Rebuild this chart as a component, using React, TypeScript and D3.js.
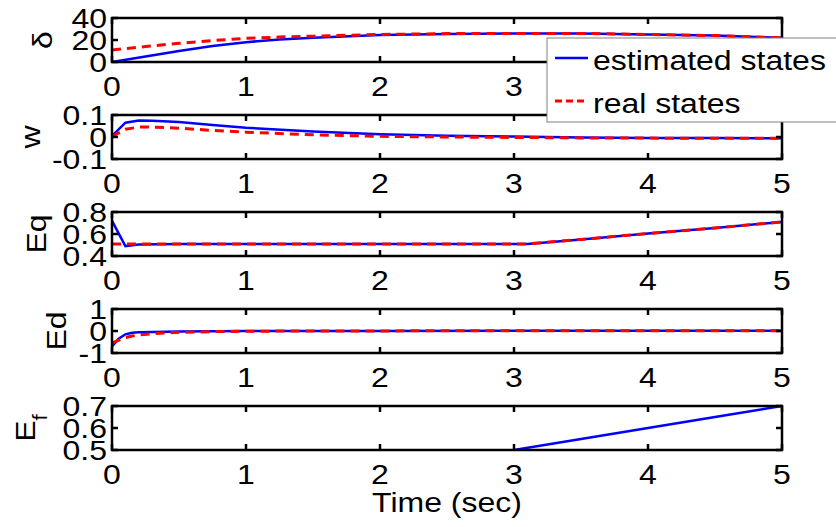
import * as d3 from 'd3';
import type { ReactNode } from 'react';

// time axis
const timeTicks = [0, 1, 2, 3, 4, 5];

// rotor angle
const deltaTime = [0, 0.25, 0.5, 0.75, 1, 1.25, 1.5, 2, 2.5, 3, 3.5, 4, 4.5, 5];
const deltaEst = [0, 5, 10, 14.5, 18, 20.5, 22, 24.5, 25.5, 26, 26, 25, 24, 22];
const deltaReal = [11, 14, 17, 19.5, 21.5, 22.7, 23.5, 25, 25.8, 26, 26, 25, 24, 22];
const deltaTicks = [0, 20, 40];

// speed deviation
const wTime = [0, 0.1, 0.2, 0.3, 0.5, 0.75, 1, 1.5, 2, 2.5, 3, 3.5, 4, 4.5, 5];
const wEst = [0.005, 0.065, 0.075, 0.074, 0.068, 0.055, 0.042, 0.025, 0.013, 0.006, 0.002, -0.002, -0.004, -0.005, -0.006];
const wReal = [0.002, 0.035, 0.045, 0.045, 0.04, 0.03, 0.022, 0.01, 0.003, 0, -0.002, -0.004, -0.005, -0.006, -0.006];
const wTicks = [-0.1, 0, 0.1];

// Eq'
const eqTime = [0, 0.1, 0.2, 0.5, 1, 2, 3, 3.1, 3.5, 4, 4.5, 5];
const eqEst = [0.72, 0.49, 0.505, 0.51, 0.51, 0.51, 0.51, 0.51, 0.55, 0.605, 0.655, 0.71];
const eqReal = [0.51, 0.51, 0.51, 0.51, 0.51, 0.51, 0.51, 0.51, 0.55, 0.605, 0.655, 0.71];
const eqTicks = [0.4, 0.6, 0.8];

// Ed'
const edTime = [0, 0.05, 0.1, 0.15, 0.2, 0.3, 0.5, 0.75, 1, 1.5, 2, 3, 4, 5];
const edEst = [-0.7, -0.35, -0.15, -0.08, -0.06, -0.04, -0.02, -0.01, 0, 0, 0, 0.01, 0.01, 0.01];
const edReal = [-0.55, -0.42, -0.3, -0.23, -0.18, -0.12, -0.06, -0.03, -0.01, 0, 0.005, 0.01, 0.01, 0.01];
const edTicks = [-1, 0, 1];

// field voltage
const efTime = [3, 3.5, 4, 4.5, 5];
const efEst = [0.5, 0.55, 0.6, 0.65, 0.7];
const efTicks = [0.5, 0.6, 0.7];

const panels = [
  { label: 'δ', labelX: 52, domain: [0, 40], ticks: deltaTicks, tickText: ['0', '20', '40'], t: deltaTime, est: deltaEst, real: deltaReal },
  { label: 'w', labelX: 40, domain: [-0.1, 0.1], ticks: wTicks, tickText: ['-0.1', '0', '0.1'], t: wTime, est: wEst, real: wReal },
  { label: 'Eq', labelX: 46, domain: [0.4, 0.8], ticks: eqTicks, tickText: ['0.4', '0.6', '0.8'], t: eqTime, est: eqEst, real: eqReal },
  { label: 'Ed', labelX: 66, domain: [-1, 1], ticks: edTicks, tickText: ['-1', '0', '1'], t: edTime, est: edEst, real: edReal },
  { label: 'E', sub: 'f', labelX: 35, domain: [0.5, 0.7], ticks: efTicks, tickText: ['0.5', '0.6', '0.7'], t: efTime, est: efEst, real: null as number[] | null },
];

const W = 836;
const H = 527;
const left = 112;
const right = 782;
const panelH = 44;
const legendX = 547;
const font = '"Liberation Sans", Arial, sans-serif';
const fs = 32;
const squash = 0.88; // glyphs in the source are a bit taller than wide
const blue = '#0000ff';
const red = '#ff0000';

const x = d3.scaleLinear().domain([0, 5]).range([left, right]);

// text squeezed vertically, like the stretched original
function T({ x, y, anchor, rotate, children }: { x: number; y: number; anchor?: string; rotate?: boolean; children: ReactNode }) {
  const tf = `translate(${x},${y})${rotate ? ' rotate(-90)' : ''} scale(1,${squash})`;
  return (
    <text transform={tf} fontSize={fs} textAnchor={anchor || 'start'}>
      {children}
    </text>
  );
}

export default function App() {
  return (
    <svg width={W} height={H} style={{ position: 'absolute', left: 0, top: 0, background: '#fff' }} fontFamily={font}>
      <rect width={W} height={H} fill="#fff" />
      {panels.map((p, i) => {
        const top = 18 + i * 97;
        const bottom = top + panelH;
        const y = d3.scaleLinear().domain(p.domain).range([bottom, top]);
        const line = d3.line<number>().x((_, k) => x(p.t[k])).y(v => y(v));
        const clipId = `clip${i}`;
        const midY = (top + bottom) / 2;
        return (
          <g key={i}>
            <clipPath id={clipId}>
              <rect x={left} y={top} width={right - left} height={panelH} />
            </clipPath>
            <g clipPath={`url(#${clipId})`}>
              <path d={line(p.est) || ''} fill="none" stroke={blue} strokeWidth={2.5} />
              {p.real && (
                <path d={line(p.real) || ''} fill="none" stroke={red} strokeWidth={3} strokeDasharray="9,6" />
              )}
            </g>
            <rect x={left} y={top} width={right - left} height={panelH} fill="none" stroke="#000" strokeWidth={2.5} />
            {timeTicks.map(t => (
              <g key={t}>
                <line x1={x(t)} x2={x(t)} y1={bottom} y2={bottom - 6} stroke="#000" strokeWidth={2.5} />
                <line x1={x(t)} x2={x(t)} y1={top} y2={top + 6} stroke="#000" strokeWidth={2.5} />
                {/* labels under the legend are hidden in the original */}
                {!(i === 0 && x(t) > legendX - 10) && (
                  <T x={x(t)} y={bottom + 34} anchor="middle">{t}</T>
                )}
              </g>
            ))}
            {p.ticks.map((v, k) => (
              <g key={k}>
                <line x1={left} x2={left + 6} y1={y(v)} y2={y(v)} stroke="#000" strokeWidth={2.5} />
                <line x1={right} x2={right - 6} y1={y(v)} y2={y(v)} stroke="#000" strokeWidth={2.5} />
                <T x={107} y={y(v) + 10} anchor="end">{p.tickText[k]}</T>
              </g>
            ))}
            <T x={p.labelX} y={midY} anchor="middle" rotate>
              {p.label}
              {p.sub && <tspan fontSize={22} dy={14}>{p.sub}</tspan>}
            </T>
          </g>
        );
      })}
      <T x={(left + right) / 2} y={512} anchor="middle">Time (sec)</T>
      <g>
        <rect x={legendX} y={38} width={300} height={84} fill="#fff" stroke="#808080" strokeWidth={1} />
        <line x1={555} x2={588} y1={58} y2={58} stroke={blue} strokeWidth={2.5} />
        <T x={593} y={70}>estimated states</T>
        <line x1={555} x2={588} y1={101} y2={101} stroke={red} strokeWidth={3} strokeDasharray="7,4" />
        <T x={593} y={113}>real states</T>
      </g>
    </svg>
  );
}
